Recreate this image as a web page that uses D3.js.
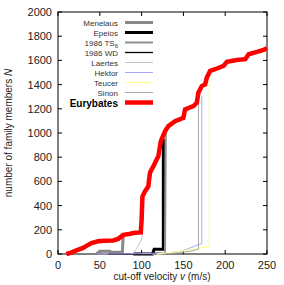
<!DOCTYPE html>
<html>
<head>
<meta charset="utf-8">
<script src="https://cdn.jsdelivr.net/npm/d3@7"></script>
<style>
  body { margin: 0; background: #fff; }
  text { font-family: "Liberation Sans", Arial, sans-serif; fill: #222; }
</style>
</head>
<body>
<div id="chart"></div>
<script>
'use strict';

// cut-off velocity v (m/s) vs number of family members N
var menelaus = [[46, 0], [50, 22], [62, 22], [64, 14], [77, 14], [78, 160]];
var epeios = [[90, 0], [113, 0], [115, 40], [126, 40], [126, 950]];
var ts6 = [[100, 0], [128, 0], [129, 1030]];
var wd = [[60, 0], [112, 0], [114, 8], [128, 8], [130, 0]];
var laertes = [[88, 0], [91, 15], [94, 45], [97, 80], [100, 120], [101, 160]];
var hektor = [[48, 0], [95, 2], [110, 5], [130, 10], [145, 18], [156, 44], [166, 72], [172, 85], [172, 1305]];
var teucer = [[118, 0], [140, 17], [168, 44], [174, 58], [181, 58], [181, 1440]];
var sinon = [[128, 0], [145, 10], [160, 25], [168, 40], [168, 1334]];
var eurybates = [[10, 0], [15, 10], [22, 30], [30, 50], [36, 75], [40, 90], [48, 105], [55, 110], [66, 112],
  [72, 125], [78, 158], [85, 165], [92, 175], [99, 178], [100, 280], [101, 475], [104, 517], [108, 558],
  [110, 672], [114, 724], [118, 780], [120, 807], [123, 932], [128, 1015], [132, 1057], [140, 1098],
  [150, 1126], [152, 1195], [162, 1222], [166, 1250], [168, 1334], [172, 1388], [176, 1402], [178, 1458],
  [182, 1513], [188, 1527], [198, 1555], [202, 1588], [214, 1604], [224, 1610], [228, 1651], [238, 1670],
  [246, 1687], [250, 1700]];

var familyNames = ['Menelaus', 'Epeios', '1986 TS6', '1986 WD', 'Laertes', 'Hektor', 'Teucer', 'Sinon', 'Eurybates'];
var familyData = [menelaus, epeios, ts6, wd, laertes, hektor, teucer, sinon, eurybates];
var xTicks = [0, 50, 100, 150, 200, 250];
var yTicks = [0, 200, 400, 600, 800, 1000, 1200, 1400, 1600, 1800, 2000];

var styles = [
  {color: '#888888', width: 3},
  {color: '#000000', width: 3},
  {color: '#909090', width: 2},
  {color: '#000000', width: 1.3},
  {color: '#c4c4c4', width: 1},
  {color: '#a8a8ff', width: 1},
  {color: '#ffff9c', width: 1.3},
  {color: '#a8a8a8', width: 1},
  {color: '#ff0000', width: 4.5}
];

var width = 284, height = 285;
var svg = d3.select('#chart').append('svg')
  .attr('width', width)
  .attr('height', height);

var x = d3.scaleLinear().domain([0, 250]).range([58, 267]);
var y = d3.scaleLinear().domain([0, 2000]).range([254, 12]);

var line = d3.line()
  .x(function(d) { return x(d[0]); })
  .y(function(d) { return y(d[1]); });

// frame with inner ticks on all sides (gnuplot style)
var axes = svg.append('g').attr('class', 'axes');

axes.append('rect')
  .attr('x', x(0))
  .attr('y', y(2000))
  .attr('width', x(250) - x(0))
  .attr('height', y(0) - y(2000))
  .attr('fill', 'none')
  .attr('stroke', '#000')
  .attr('stroke-width', 1);

xTicks.forEach(function(t) {
  axes.append('line')
    .attr('x1', x(t)).attr('x2', x(t))
    .attr('y1', y(0)).attr('y2', y(0) - 4)
    .attr('stroke', '#000');
  axes.append('line')
    .attr('x1', x(t)).attr('x2', x(t))
    .attr('y1', y(2000)).attr('y2', y(2000) + 4)
    .attr('stroke', '#000');
  axes.append('text')
    .attr('x', x(t))
    .attr('y', y(0) + 15)
    .attr('text-anchor', 'middle')
    .style('font-size', '11px')
    .text(t);
});

yTicks.forEach(function(t) {
  axes.append('line')
    .attr('x1', x(0)).attr('x2', x(0) + 4)
    .attr('y1', y(t)).attr('y2', y(t))
    .attr('stroke', '#000');
  axes.append('line')
    .attr('x1', x(250)).attr('x2', x(250) - 4)
    .attr('y1', y(t)).attr('y2', y(t))
    .attr('stroke', '#000');
  axes.append('text')
    .attr('x', x(0) - 6)
    .attr('y', y(t) + 4)
    .attr('text-anchor', 'end')
    .style('font-size', '11px')
    .text(t);
});

var xTitle = svg.append('text')
  .attr('x', 162)
  .attr('y', 280)
  .attr('text-anchor', 'middle')
  .style('font-size', '10px');
xTitle.append('tspan').text('cut-off velocity ');
xTitle.append('tspan').style('font-style', 'italic').text('v');
xTitle.append('tspan').text(' (m/s)');

var yTitle = svg.append('text')
  .attr('transform', 'translate(12,133) rotate(-90)')
  .attr('text-anchor', 'middle')
  .style('font-size', '10px');
yTitle.append('tspan').text('number of family members ');
yTitle.append('tspan').style('font-style', 'italic').text('N');

// family curves, Eurybates drawn last so it sits on top
svg.append('g').selectAll('path')
  .data(familyData)
  .enter()
  .append('path')
  .attr('d', line)
  .attr('fill', 'none')
  .attr('stroke', function(d, i) { return styles[i].color; })
  .attr('stroke-width', function(d, i) { return styles[i].width; });

// legend
var legend = svg.append('g').attr('class', 'legend');

familyNames.forEach(function(name, i) {
  var ly = 22.5 + i * 10;
  var isBig = name === 'Eurybates';
  var label = legend.append('text')
    .attr('x', 118)
    .attr('y', ly + (isBig ? 4 : 3))
    .attr('text-anchor', 'end')
    .style('font-size', isBig ? '10px' : '8px')
    .style('font-weight', isBig ? 'bold' : 'normal')
    .style('fill', isBig ? '#000' : '#333');
  if (name === '1986 TS6') {
    label.append('tspan').text('1986 TS');
    label.append('tspan').attr('dy', 2).style('font-size', '6px').text('6');
  } else {
    label.text(name);
  }
  legend.append('line')
    .attr('x1', 125).attr('x2', 153)
    .attr('y1', ly).attr('y2', ly)
    .attr('stroke', styles[i].color)
    .attr('stroke-width', styles[i].width);
});
</script>
</body>
</html>
